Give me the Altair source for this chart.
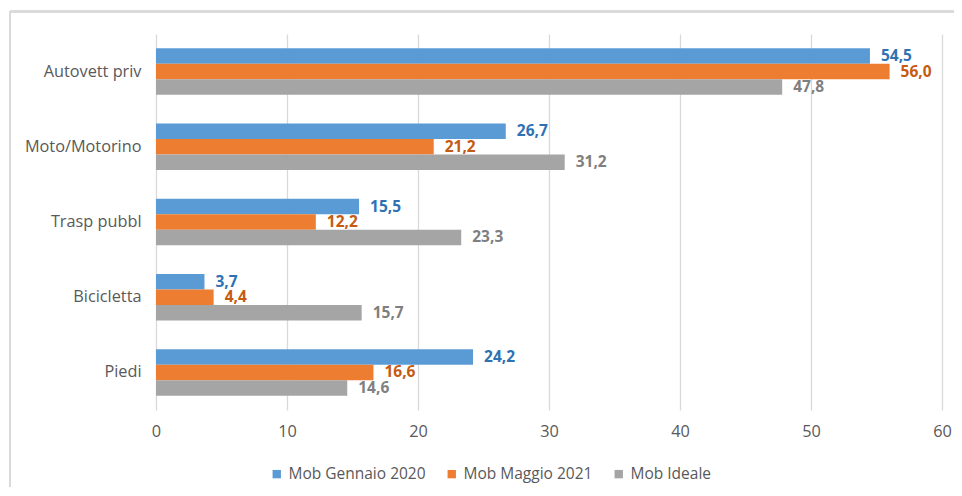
import altair as alt
import pandas as pd

categories = ["Autovett priv", "Moto/Motorino", "Trasp pubbl", "Bicicletta", "Piedi"]
series = ["Mob Gennaio 2020", "Mob Maggio 2021", "Mob Ideale"]
gennaio_2020 = [54.5, 26.7, 15.5, 3.7, 24.2]
maggio_2021 = [56.0, 21.2, 12.2, 4.4, 16.6]
ideale = [47.8, 31.2, 23.3, 15.7, 14.6]
x_ticks = [0, 10, 20, 30, 40, 50, 60]

bar_colors = ["#5B9BD5", "#ED7D31", "#A5A5A5"]
label_colors = ["#2F72B4", "#C55A11", "#7F7F7F"]
FONT = "Open Sans"

rows = []
for s, vals in zip(series, [gennaio_2020, maggio_2021, ideale]):
    for c, v in zip(categories, vals):
        rows.append({"cat": c, "serie": s, "val": v,
                     "lab": f"{v:.1f}".replace(".", ",")})
df = pd.DataFrame(rows)

y_enc = alt.Y("cat:N", sort=categories, title=None,
              scale=alt.Scale(paddingInner=0.382, paddingOuter=0.191),
              axis=alt.Axis(labelFont=FONT, labelFontSize=16.3, labelColor="#595959",
                            labelPadding=15, ticks=False, domain=False, grid=False,
                            minExtent=148, maxExtent=148))
yoff = alt.YOffset("serie:N", sort=series, scale=alt.Scale(paddingInner=0, paddingOuter=0))
x_enc = alt.X("val:Q", title=None,
              scale=alt.Scale(domain=[0, 60], nice=False),
              axis=alt.Axis(values=x_ticks, labelFont=FONT, labelFontSize=16.3,
                            labelColor="#595959", labelPadding=13, ticks=False,
                            labelFlush=False, labelBound=False,
                            domain=False, grid=True, gridColor="#D9D9D9", gridWidth=1.3))

bars = alt.Chart(df).mark_bar(size=15.5).encode(
    y=y_enc, yOffset=yoff, x=x_enc,
    color=alt.Color("serie:N", sort=series,
                    scale=alt.Scale(domain=series, range=bar_colors),
                    legend=alt.Legend(title=None, orient="none", direction="horizontal",
                                      legendX=113, legendY=432, symbolType="square",
                                      symbolSize=70, symbolStrokeWidth=0,
                                      labelFont=FONT, labelFontSize=15.5,
                                      labelColor="#595959", labelOffset=4,
                                      columnPadding=18, padding=0)),
)

labels = alt.Chart(df).mark_text(align="left", baseline="middle", dx=11,
                                  font=FONT, fontSize=15.5, fontWeight="bold").encode(
    y=alt.Y("cat:N", sort=categories), yOffset=yoff, x="val:Q",
    text="lab:N",
    color=alt.Color("serie:N", sort=series,
                    scale=alt.Scale(domain=series, range=label_colors), legend=None),
)

border_top = alt.Chart(df).mark_rule(color="#D9D9D9", strokeWidth=1.5).encode(
    x=alt.value(-146), x2=alt.value(810), y=alt.value(-22.5))
border_left = alt.Chart(df).mark_rule(color="#D9D9D9", strokeWidth=1.5).encode(
    x=alt.value(-146), y=alt.value(-22.5), y2=alt.value(470))

chart = alt.layer(border_top, border_left, bars, labels).resolve_scale(
    color="independent"
).properties(
    width=786, height=376,
    autosize=alt.AutoSizeParams(type="none"),
    padding={"left": 148, "top": 26, "right": 12, "bottom": 77},
).configure_view(stroke=None)

chart.save("out.html", embed_options={"renderer": "svg", "actions": False})
